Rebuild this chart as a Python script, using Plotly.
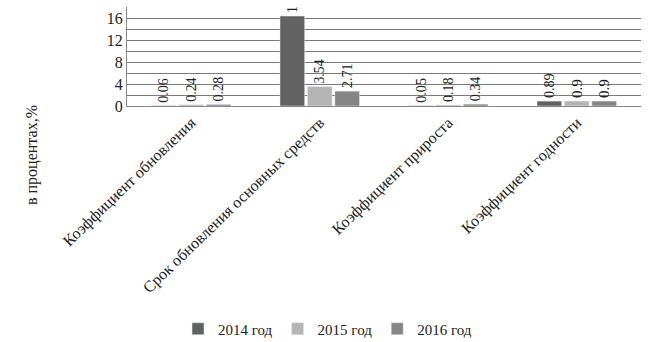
import plotly.graph_objects as go

categories = ["Коэффициент обновления", "Срок обновления основных средств",
              "Коэффициент прироста", "Коэффициент годности"]
series_names = ["2014 год", "2015 год", "2016 год"]
v2014 = [0.06, 16.4, 0.05, 0.89]
v2015 = [0.24, 3.54, 0.18, 0.9]
v2016 = [0.28, 2.71, 0.34, 0.9]
labels2014 = ["0.06", "16.4", "0.05", "0.89"]
labels2015 = ["0.24", "3.54", "0.18", "0.9"]
labels2016 = ["0.28", "2.71", "0.34", "0.9"]
colors = ["#626262", "#b4b4b4", "#858585"]

font = "Liberation Serif"
fig = go.Figure()
for name, vals, labs, col in zip(series_names, [v2014, v2015, v2016],
                                 [labels2014, labels2015, labels2016], colors):
    fig.add_trace(go.Bar(x=categories, y=vals, name=name, marker_color=col,
                         text=labs, textposition="outside", textangle=-90,
                         textfont=dict(family=font, size=15, color="#222"),
                         cliponaxis=True))

fig.update_layout(
    width=655, height=342,
    margin=dict(l=127, r=14, t=7, b=236),
    paper_bgcolor="white", plot_bgcolor="white",
    barmode="group", bargap=0.36, bargroupgap=0.1,
    font=dict(family=font, size=15, color="#222"),
    showlegend=True,
    legend=dict(orientation="h", x=0.5, xanchor="center", xref="container",
                y=(342 - 329) / 342, yanchor="middle", yref="container",
                bgcolor="rgba(0,0,0,0)", itemwidth=30,
                font=dict(family=font, size=15), traceorder="normal"),
    annotations=[dict(text="в процентах,%", textangle=-90, xref="paper", yref="paper",
                      x=-(127 - 32) / 514, y=(106 - 155) / 99, xanchor="center",
                      yanchor="middle", showarrow=False,
                      font=dict(family=font, size=16, color="#222"))],
)
fig.update_xaxes(tickangle=-44, showline=True, linecolor="#888", ticks="",
                 tickfont=dict(family=font, size=16, color="#222"), automargin=False)
fig.update_yaxes(range=[0, 18.05], tick0=0, dtick=4, showgrid=True, gridcolor="#7a7a7a",
                 gridwidth=1, showline=True, linecolor="#888", zeroline=False,
                 minor=dict(dtick=2, showgrid=True, gridcolor="#7a7a7a", gridwidth=1),
                 tickfont=dict(family=font, size=16, color="#222"), automargin=False)
fig.write_html("out.html")
